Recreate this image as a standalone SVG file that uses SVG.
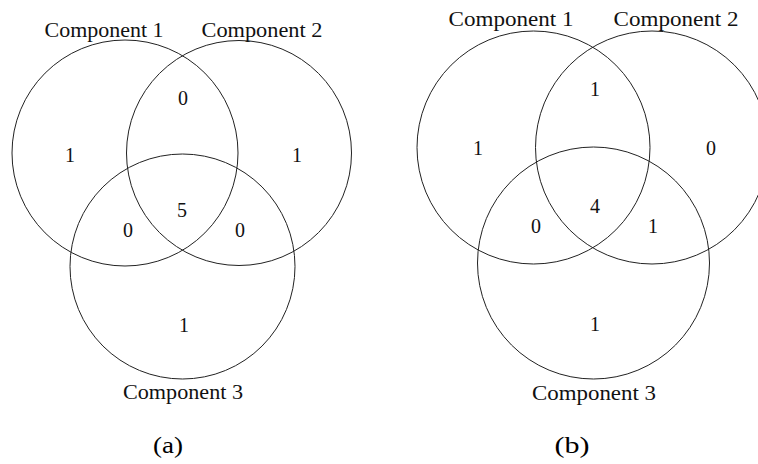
<svg xmlns="http://www.w3.org/2000/svg" width="758" height="464" viewBox="0 0 758 464">
<style>
.c{fill:none;stroke:#222;stroke-width:1}
.t{font-family:"Liberation Serif","Times New Roman",serif;font-size:20px;fill:#111;text-anchor:middle}
.n{font-family:"Liberation Serif","Times New Roman",serif;font-size:20px;fill:#111;text-anchor:middle}
.cap{font-family:"Liberation Serif","Times New Roman",serif;font-size:24px;fill:#000;text-anchor:middle}
</style>
<rect width="758" height="464" fill="#fff"/>
<g id="diagram-a">
  <g id="a-comp1"><circle class="c" cx="125" cy="153" r="113"/><text class="t" x="104" y="37" textLength="119" lengthAdjust="spacingAndGlyphs">Component 1</text></g>
  <g id="a-comp2"><circle class="c" cx="239" cy="153" r="112.5"/><text class="t" x="262" y="37" textLength="121" lengthAdjust="spacingAndGlyphs">Component 2</text></g>
  <g id="a-comp3"><circle class="c" cx="182.5" cy="266.5" r="112.5"/><text class="t" x="183" y="399" textLength="120" lengthAdjust="spacingAndGlyphs">Component 3</text></g>
  <g id="a-counts">
    <text class="n" x="183" y="105">0</text>
    <text class="n" x="70" y="162">1</text>
    <text class="n" x="297" y="162">1</text>
    <text class="n" x="182" y="217">5</text>
    <text class="n" x="128" y="237">0</text>
    <text class="n" x="240" y="237">0</text>
    <text class="n" x="184" y="332">1</text>
  </g>
  <text class="cap" x="168" y="453" textLength="30" lengthAdjust="spacingAndGlyphs">(a)</text>
</g>
<g id="diagram-b">
  <g id="b-comp1"><circle class="c" cx="533.5" cy="147.5" r="116.5"/><text class="t" x="511" y="26" textLength="125" lengthAdjust="spacingAndGlyphs">Component 1</text></g>
  <g id="b-comp2"><circle class="c" cx="652" cy="147.5" r="116.5"/><text class="t" x="676" y="26" textLength="125" lengthAdjust="spacingAndGlyphs">Component 2</text></g>
  <g id="b-comp3"><circle class="c" cx="593.5" cy="263" r="116"/><text class="t" x="594" y="400" textLength="124" lengthAdjust="spacingAndGlyphs">Component 3</text></g>
  <g id="b-counts">
    <text class="n" x="595" y="96">1</text>
    <text class="n" x="478" y="155">1</text>
    <text class="n" x="711" y="155">0</text>
    <text class="n" x="595" y="213">4</text>
    <text class="n" x="536" y="233">0</text>
    <text class="n" x="653" y="233">1</text>
    <text class="n" x="595" y="331">1</text>
  </g>
  <text class="cap" x="572" y="453" textLength="35" lengthAdjust="spacingAndGlyphs">(b)</text>
</g>
<g id="connectors"/>
</svg>
